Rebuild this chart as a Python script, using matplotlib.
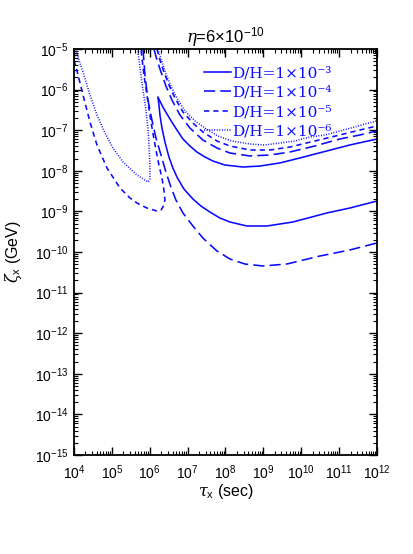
import matplotlib
matplotlib.use('Agg')
import numpy as np
import matplotlib.pyplot as plt
from matplotlib.ticker import LogLocator, NullFormatter
from matplotlib.lines import Line2D

plt.rcParams['font.family'] = ['Liberation Sans', 'DejaVu Sans']
plt.rcParams['mathtext.fontset'] = 'custom'
plt.rcParams['mathtext.rm'] = 'Liberation Sans'
plt.rcParams['mathtext.it'] = 'DejaVu Serif:italic'
plt.rcParams['mathtext.bf'] = 'Liberation Sans:bold'

# ---------------- data (tau_X in sec, zeta_X in GeV) ----------------
# D/H = 1e-3 (solid): closed contour, upper and lower branch from the tip
solid_upper_tau = [1.64e6, 2.23e6, 3.41e6, 5.22e6, 7.52e6, 1.15e7, 1.76e7, 2.86e7, 4.66e7,
                   9.6e7, 2.88e8, 8.1e8, 2.72e9, 9.2e9, 4.73e10, 1.91e11, 1e12]
solid_upper_zeta = [6.6e-7, 3.7e-7, 1.89e-7, 1.01e-7, 6.07e-8, 4.08e-8, 2.90e-8, 2.19e-8, 1.74e-8,
                    1.39e-8, 1.24e-8, 1.31e-8, 1.56e-8, 2.07e-8, 3.08e-8, 4.32e-8, 6.07e-8]
solid_lower_tau = [1.64e6, 1.75e6, 1.86e6, 2.10e6, 2.52e6, 3.21e6, 4.09e6, 5.22e6, 7.98e6, 1.38e7,
                   2.24e7, 3.87e7, 7.11e7, 1.31e8, 3.67e8, 1.24e9, 6.0e9, 4.73e10, 1.91e11, 1e12]
solid_lower_zeta = [6.6e-7, 4.18e-7, 2.37e-7, 1.13e-7, 5.12e-8, 2.19e-8, 1.17e-8, 7.03e-9, 3.56e-9,
                    2.02e-9, 1.36e-9, 9.66e-10, 6.87e-10, 5.48e-10, 4.37e-10, 4.37e-10, 5.48e-10,
                    9.14e-10, 1.21e-9, 1.80e-9]

# D/H = 1e-4 (long dashed)
long_lower_tau = [6.62e5, 7.47e5, 8.97e5, 1.14e6, 1.46e6, 1.98e6, 2.67e6, 3.62e6, 4.91e6, 7.52e6,
                  1.38e7, 2.53e7, 5.93e7, 1.31e8, 3.25e8, 9.7e8, 4.17e9, 3.10e10, 1.91e11, 1e12]
long_lower_zeta = [1e-5, 2.29e-6, 5.55e-7, 1.78e-7, 6.43e-8, 2.45e-8, 9.33e-9, 3.99e-9, 1.91e-9,
                   9.14e-10, 4.37e-10, 2.21e-10, 1.06e-10, 6.73e-11, 5.06e-11, 4.52e-11, 5.06e-11,
                   7.96e-11, 1.12e-10, 1.67e-10]
long_upper_tau = [1.29e6, 1.55e6, 1.98e6, 2.67e6, 3.85e6, 6.27e6, 1.15e7, 2.53e7, 5.93e7, 1.31e8,
                  4.40e8, 1.49e9, 5.0e9, 2.28e10, 1.04e11, 3.52e11, 1e12]
long_upper_zeta = [1e-5, 5.36e-6, 2.71e-6, 1.23e-6, 5.55e-7, 2.37e-7, 1.13e-7, 5.74e-8, 3.65e-8,
                   2.74e-8, 2.32e-8, 2.45e-8, 2.90e-8, 4.08e-8, 6.07e-8, 7.62e-8, 9.55e-8]

# D/H = 1e-5 (short dashed)
short_left_tau = [1e4, 1.28e4, 1.73e4, 2.64e4, 4.04e4, 7.43e4, 1.64e5, 3.0e5, 4.59e5, 8.43e5,
                  1.55e6, 1.98e6, 2.23e6, 2.52e6, 2.37e6, 2.10e6, 1.75e6, 1.46e6, 1.21e6, 1.01e6,
                  8.43e5, 7.03e5, 5.86e5]
short_left_zeta = [5.36e-6, 2.29e-6, 7.36e-7, 1.59e-7, 4.32e-8, 1.17e-8, 3.77e-9, 2.14e-9, 1.61e-9,
                   1.21e-9, 1.02e-9, 1.08e-9, 1.28e-9, 1.91e-9, 3.37e-9, 6.65e-9, 1.39e-8, 3.25e-8,
                   8.53e-8, 2.37e-7, 7.36e-7, 2.29e-6, 1e-5]
short_upper_tau = [1.55e6, 1.86e6, 2.37e6, 3.21e6, 4.62e6, 7.52e6, 1.38e7, 2.53e7, 5.93e7, 1.31e8,
                   4.40e8, 1.49e9, 5.0e9, 2.28e10, 1.04e11, 3.52e11, 1e12]
short_upper_zeta = [1e-5, 5.36e-6, 2.71e-6, 1.30e-6, 6.21e-7, 2.81e-7, 1.50e-7, 9.04e-8, 5.42e-8,
                    4.08e-8, 3.25e-8, 3.25e-8, 3.85e-8, 5.42e-8, 7.62e-8, 1.01e-7, 1.27e-7]

# D/H = 1e-6 (dotted)
dot_left_tau = [1.13e4, 1.35e4, 1.73e4, 2.64e4, 4.04e4, 6.58e4, 1.07e5, 1.96e5, 4.59e5,
                8.97e5, 1.01e6, 1.01e6, 9.53e5, 8.97e5, 7.94e5, 6.62e5, 5.86e5, 4.88e5, 4.59e5]
dot_left_zeta = [1e-5, 5.36e-6, 2.71e-6, 7.36e-7, 2.37e-7, 8.53e-8, 3.65e-8, 1.65e-8, 7.89e-9,
                 5.30e-9, 6.28e-9, 1.39e-8, 4.32e-8, 1.13e-7, 3.15e-7, 9.77e-7,
                 2.29e-6, 8.43e-6, 1e-5]
dot_upper_tau = [1.64e6, 2.10e6, 2.67e6, 3.62e6, 5.22e6, 8.49e6, 1.56e7, 2.86e7, 6.30e7, 1.47e8,
                 4.40e8, 1.10e9, 2.72e9, 6.78e9, 1.69e10, 4.20e10, 1.04e11, 2.59e11, 4.76e11, 1e12]
dot_upper_zeta = [1e-5, 4.79e-6, 2.42e-6, 1.23e-6, 6.21e-7, 2.97e-7, 1.69e-7, 1.13e-7, 7.19e-8,
                  5.42e-8, 4.57e-8, 4.32e-8, 4.84e-8, 5.42e-8, 6.81e-8, 7.62e-8, 9.55e-8, 1.20e-7,
                  1.42e-7, 1.69e-7]

legend_labels = ['D/H=1×10⁻³', 'D/H=1×10⁻⁴', 'D/H=1×10⁻⁵', 'D/H=1×10⁻⁶']
title_text = r'$\eta$=6×10$^{-10}$'
xlabel_text = r'$\tau_{\rm x}$ (sec)'
ylabel_text = r'$\zeta_{\rm x}$ (GeV)'

# ---------------- figure ----------------
color = '#0a0aff'
lw = 1.15
ls_solid = '-'
ls_long = (0, (7.0, 3.2))
ls_short = (0, (3.3, 2.5))
ls_dot = (0, (0.6, 1.0))

fig = plt.figure(figsize=(4.14, 5.54), dpi=100)
ax = fig.add_axes([74 / 414, 99 / 554, 303 / 414, 406 / 554])
ax.set_xscale('log')
ax.set_yscale('log')

solid_tau = solid_upper_tau[::-1] + solid_lower_tau[1:]
solid_zeta = solid_upper_zeta[::-1] + solid_lower_zeta[1:]
ax.plot(solid_tau, solid_zeta, color=color, lw=lw, ls=ls_solid)

ax.plot(long_lower_tau, long_lower_zeta, color=color, lw=lw, ls=ls_long)
ax.plot(long_upper_tau, long_upper_zeta, color=color, lw=lw, ls=ls_long)

ax.plot(short_left_tau, short_left_zeta, color=color, lw=lw, ls=ls_short)
ax.plot(short_upper_tau, short_upper_zeta, color=color, lw=lw, ls=ls_short)

ax.plot(dot_left_tau, dot_left_zeta, color=color, lw=lw, ls=ls_dot)
ax.plot(dot_upper_tau, dot_upper_zeta, color=color, lw=lw, ls=ls_dot)

ax.set_xlim(1e4, 1e12)
ax.set_ylim(1e-15, 1e-5)

ax.xaxis.set_major_locator(LogLocator(base=10, numticks=30))
ax.yaxis.set_major_locator(LogLocator(base=10, numticks=30))
ax.xaxis.set_minor_locator(LogLocator(base=10, subs=np.arange(2, 10), numticks=200))
ax.yaxis.set_minor_locator(LogLocator(base=10, subs=np.arange(2, 10), numticks=200))
ax.xaxis.set_minor_formatter(NullFormatter())
ax.yaxis.set_minor_formatter(NullFormatter())

ax.tick_params(which='both', direction='in', top=True, right=True, colors='black')
ax.tick_params(which='major', length=6, width=1.0, labelsize=10)
ax.tick_params(axis='x', which='major', pad=6)
ax.tick_params(axis='y', which='major', pad=4)
ax.tick_params(which='minor', length=3, width=0.8)
for sp in ax.spines.values():
    sp.set_linewidth(1.3)

ax.set_title(title_text, fontsize=12, pad=4)
ax.set_xlabel(xlabel_text, fontsize=11.5)
ax.set_ylabel(ylabel_text, fontsize=11.5)
ax.xaxis.set_label_coords(0.5, -0.066)
ax.yaxis.set_label_coords(-0.165, 0.5)

handles = [Line2D([], [], color=color, lw=lw, ls=s) for s in (ls_solid, ls_long, ls_short, ls_dot)]
leg = ax.legend(handles, legend_labels, loc='upper left', bbox_to_anchor=(0.43, 0.958),
                frameon=False, handlelength=1.75, handletextpad=0.1, labelspacing=0.36,
                borderpad=0, borderaxespad=0,
                prop={'family': 'DejaVu Serif', 'size': 11}, labelcolor=color)

fig.savefig('out.png', dpi=100)
